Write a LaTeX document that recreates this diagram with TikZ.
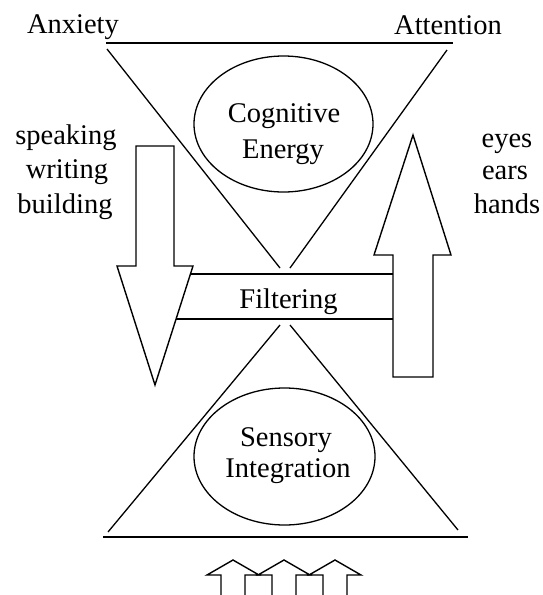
\documentclass[tikz,border=0pt]{standalone}
\usepackage{fontspec}
\setmainfont{Liberation Serif}
\usetikzlibrary{shapes.geometric}

\tikzset{
  word/.style={font=\fontsize{28.5}{35}\selectfont, inner sep=0pt, anchor=base},
  blob/.style={ellipse, draw, line width=1.3pt, inner sep=0pt},
  edge/.style={line width=1.3pt},
  rule/.style={line width=1.9pt},
  fatarrow/.style={draw, line width=1.4pt, fill=white, line join=miter},
}

\begin{document}
\begin{tikzpicture}[x=1pt, y=-1pt]
    \useasboundingbox (0,0) rectangle (542,595);

    % --- Top triangle (Cognitive Energy) ---
    \coordinate (topL) at (106,43); \coordinate (topR) at (453,43);
    \draw[rule] (topL) -- (topR);
    \draw[edge] (107,49) -- (280,268);
    \draw[edge] (447,50) -- (290,268);
    \node[blob, minimum width=179pt, minimum height=136pt] (cog) at (283.5,124) {};
    \node[word] (cogA) at (284,122) {Cognitive};
    \node[word] (cogB) at (283,158) {Energy};

    \node[word] (anx) at (73,33) {Anxiety};
    \node[word] (att) at (448,34) {Attention};

    % --- Bottom triangle (Sensory Integration) ---
    \coordinate (botL) at (103,537); \coordinate (botR) at (468,537);
    \draw[rule] (botL) -- (botR);
    \draw[edge] (280,325) -- (108,532);
    \draw[edge] (290,325) -- (458,530);
    \node[blob, minimum width=181pt, minimum height=137pt] (sens) at (284.5,456.5) {};
    \node[word] (sensA) at (286,446) {Sensory};
    \node[word] (sensB) at (288,477) {Integration};

    % --- Output arrow (down) ---
    \draw[fatarrow] (136,146) -- (174,146) -- (174,266) -- (193,266)
      -- (155,385) -- (117,266) -- (136,266) -- cycle;
    \node[word] (spk) at (66,144) {speaking};
    \node[word] (wrt) at (67,178) {writing};
    \node[word] (bld) at (65,213) {building};

    % --- Input arrow (up) ---
    \draw[fatarrow] (413,135) -- (451,255) -- (433,255) -- (433,377)
      -- (393,377) -- (393,255) -- (374,255) -- cycle;
    \node[word] (eye) at (507,147) {eyes};
    \node[word] (ear) at (505,179) {ears};
    \node[word] (hnd) at (507,213) {hands};

    % Filtering band between the two arrows
    \draw[edge] (190.4,274) -- (393,274);
    \draw[edge] (176.1,319) -- (393,319);
    \node[word] (filt) at (288.5,308) {Filtering};

    % --- small input arrows at the bottom ---
    \draw[fatarrow] (221,597) -- (221,575) -- (207,575) -- (233,560) -- (259,575)
      -- (245,575) -- (245,597);
    \draw[fatarrow] (272,597) -- (272,575) -- (258,575) -- (284,560) -- (310,575)
      -- (296,575) -- (296,597);
    \draw[fatarrow] (323,597) -- (323,575) -- (309,575) -- (335,560) -- (361,575)
      -- (347,575) -- (347,597);

\end{tikzpicture}
\end{document}
